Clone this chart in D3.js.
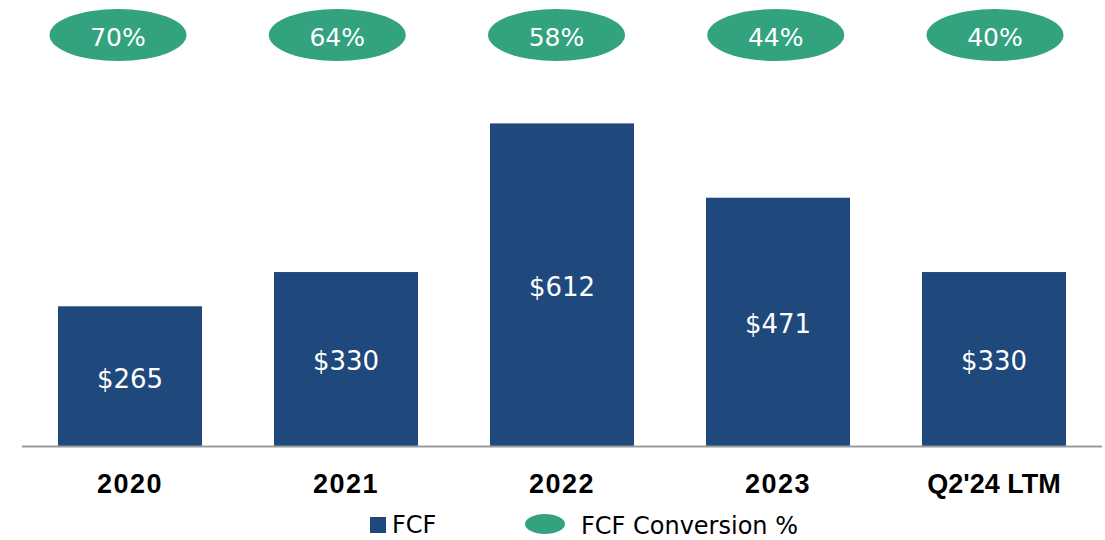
<!DOCTYPE html>
<html>
<head>
<meta charset="utf-8">
<script src="https://cdn.jsdelivr.net/npm/d3@7"></script>
<style>
  html, body { margin: 0; padding: 0; background: #fff; }
  svg { display: block; }
</style>
</head>
<body>
<svg id="chart" width="1105" height="540"></svg>
<script>
// ── Data ──────────────────────────────────────────────────────────────────
const categories = ['2020', '2021', '2022', '2023', "Q2'24 LTM"];
const fcfValues  = [265, 330, 612, 471, 330];
const conversion = [70, 64, 58, 44, 40];
const legendLabels = ['FCF', 'FCF Conversion %'];

const BLUE  = '#1f497d';
const GREEN = '#33a27f';

const svg = d3.select('#chart');

// ── Scales ────────────────────────────────────────────────────────────────
const x = d3.scaleBand()
  .domain(categories)
  .range([22, 1102])
  .paddingInner(1 / 3)
  .paddingOuter(1 / 6);

const y = d3.scaleLinear()
  .domain([0, 700])
  .range([446, 77]);

// conversion bubbles sit slightly off the bar centres in the source
const xBubble = d3.scalePoint()
  .domain(categories)
  .range([118, 995]);

// ── Bars ──────────────────────────────────────────────────────────────────
svg.selectAll('.bar')
  .data(categories)
  .join('rect')
  .attr('class', 'bar')
  .attr('x', d => x(d))
  .attr('y', (d, i) => y(fcfValues[i]))
  .attr('width', x.bandwidth())
  .attr('height', (d, i) => y(0) - y(fcfValues[i]))
  .attr('fill', BLUE);

svg.selectAll('.bar-label')
  .data(categories)
  .join('text')
  .attr('class', 'bar-label')
  .attr('x', d => x(d) + x.bandwidth() / 2)
  .attr('y', (d, i) => (y(fcfValues[i]) + y(0)) / 2 + 2)
  .attr('dy', '0.36em')
  .attr('text-anchor', 'middle')
  .attr('fill', '#fff')
  .style('font', '26px "DejaVu Sans", sans-serif')
  .text((d, i) => `$${fcfValues[i]}`);

// ── Baseline + category labels ────────────────────────────────────────────
svg.append('line')
  .attr('x1', x.range()[0]).attr('x2', x.range()[1])
  .attr('y1', y(0) + 0.5).attr('y2', y(0) + 0.5)
  .attr('stroke', '#9a9a9a')
  .attr('stroke-width', 2);

svg.selectAll('.cat-label')
  .data(categories)
  .join('text')
  .attr('class', 'cat-label')
  .attr('x', d => x(d) + x.bandwidth() / 2)
  .attr('y', 493)
  .attr('text-anchor', 'middle')
  .attr('fill', '#000')
  .style('font', 'bold 27px "Liberation Sans", Arial, sans-serif')
  .style('letter-spacing', d => /^\d+$/.test(d) ? '1.5px' : '0px')
  .text(d => d);

// ── Conversion bubbles ────────────────────────────────────────────────────
const bubble = svg.selectAll('.bubble')
  .data(categories)
  .join('g')
  .attr('class', 'bubble')
  .attr('transform', d => `translate(${xBubble(d)},35)`);

bubble.append('ellipse')
  .attr('rx', 68.5)
  .attr('ry', 26)
  .attr('fill', GREEN);

bubble.append('text')
  .attr('dy', '0.36em')
  .attr('y', 2)
  .attr('text-anchor', 'middle')
  .attr('fill', '#fff')
  .style('font', '25px "DejaVu Sans", sans-serif')
  .text((d, i) => `${conversion[i]}%`);

// ── Legend ────────────────────────────────────────────────────────────────
const legend = svg.append('g').attr('class', 'legend');

legend.append('rect')
  .attr('x', 370).attr('y', 517)
  .attr('width', 16).attr('height', 16)
  .attr('fill', BLUE);

legend.append('text')
  .attr('x', 392).attr('y', 533)
  .attr('fill', '#000')
  .style('font', '24px "DejaVu Sans", sans-serif')
  .text(legendLabels[0]);

legend.append('ellipse')
  .attr('cx', 545).attr('cy', 524)
  .attr('rx', 20).attr('ry', 10)
  .attr('fill', GREEN);

legend.append('text')
  .attr('x', 581).attr('y', 534)
  .attr('fill', '#000')
  .style('font', '24px "DejaVu Sans", sans-serif')
  .text(legendLabels[1]);
</script>
</body>
</html>
